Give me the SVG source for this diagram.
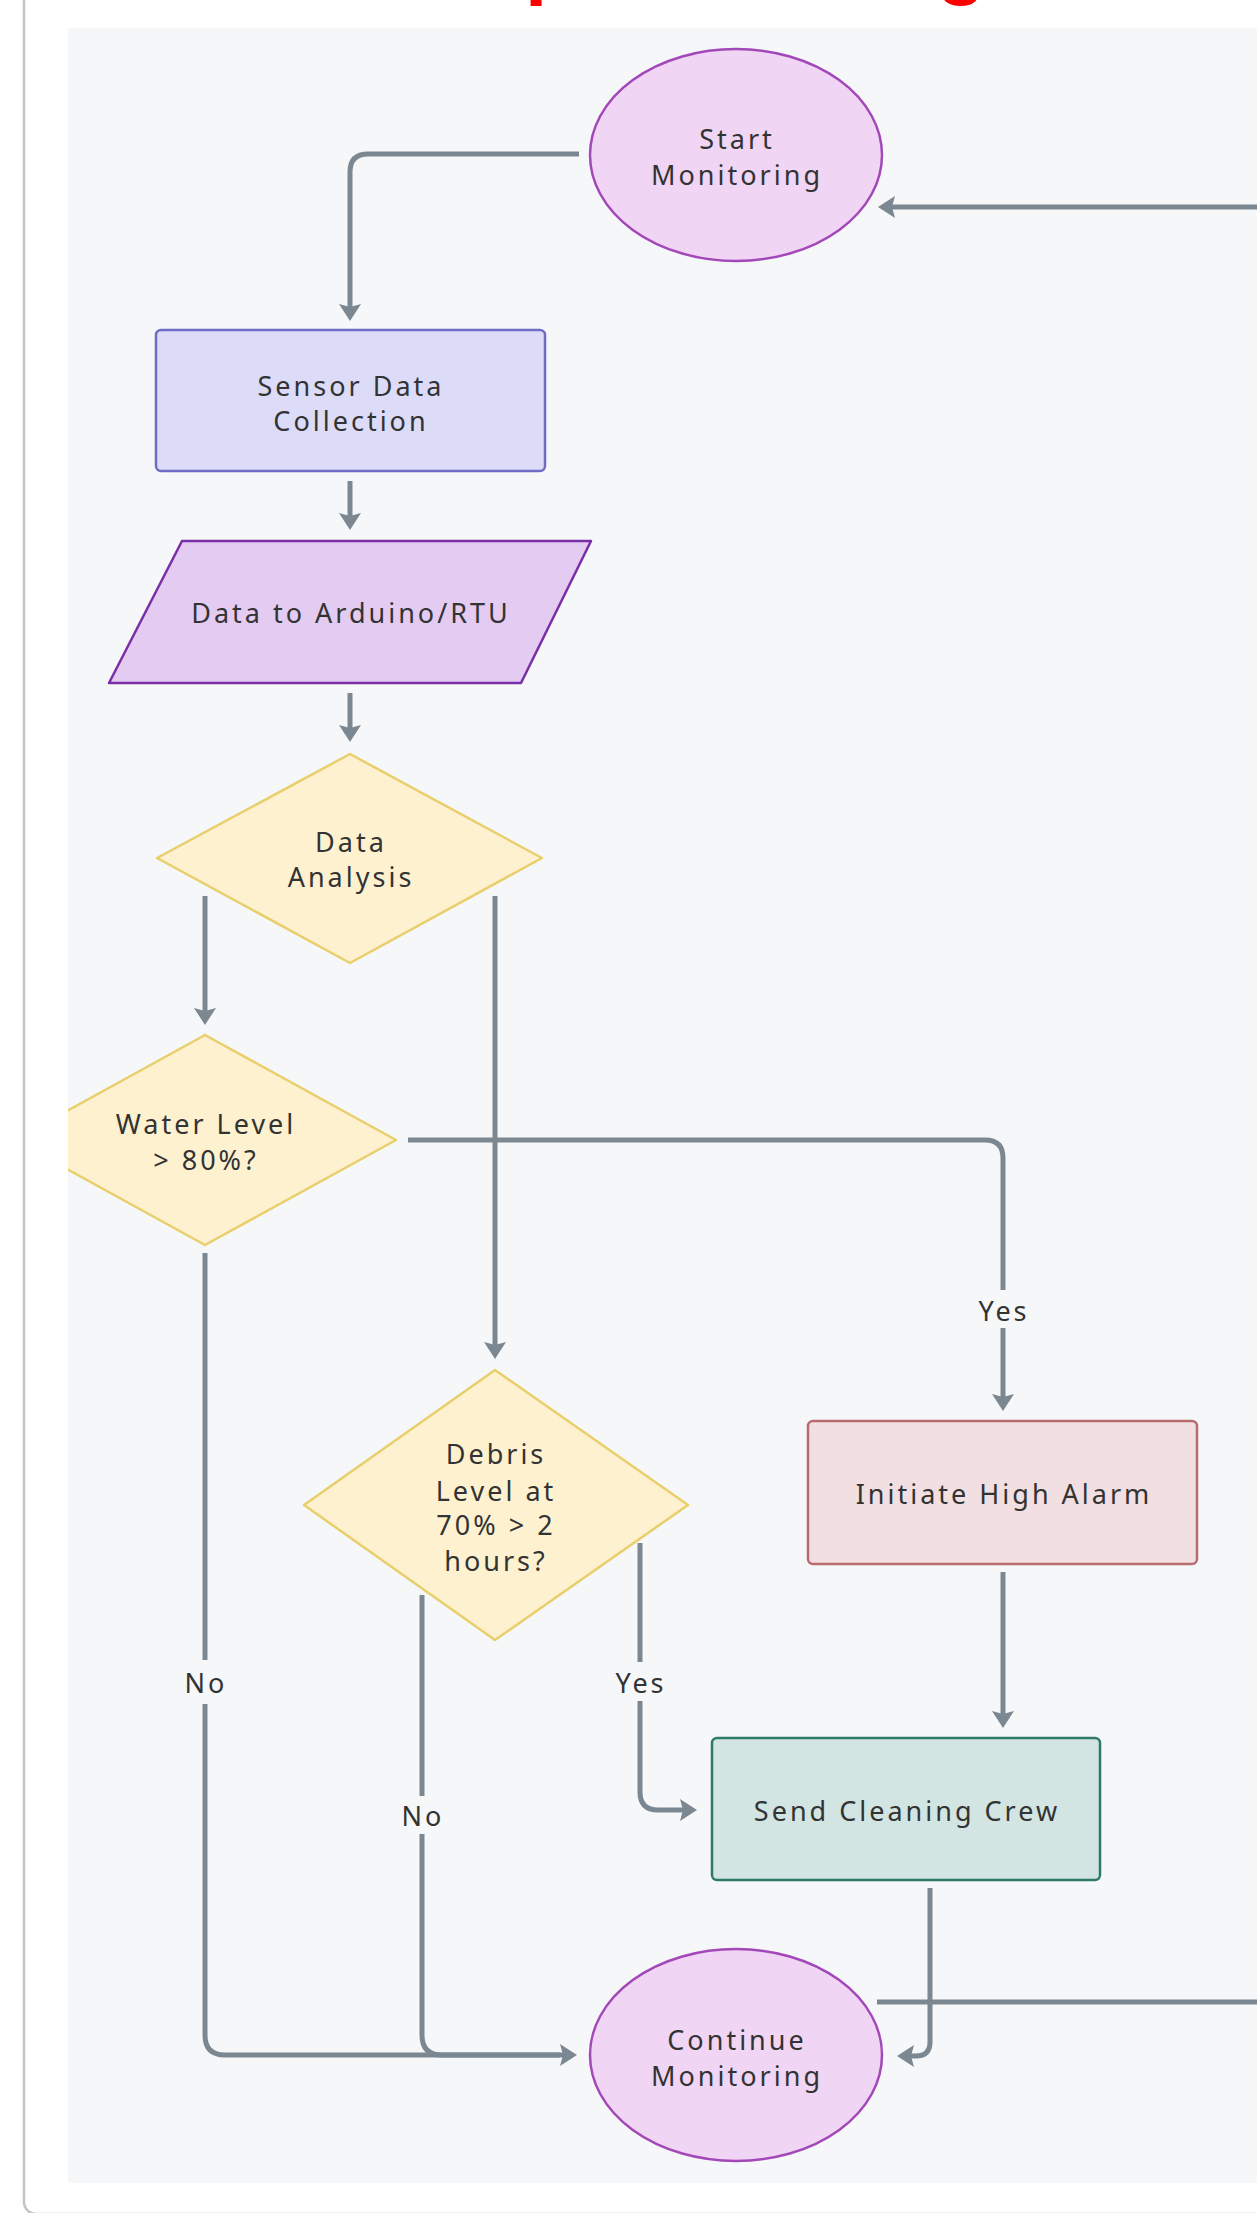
<svg xmlns="http://www.w3.org/2000/svg" width="1257" height="2213" viewBox="0 0 1257 2213">
<style>
.t{font-family:"Noto Sans","DejaVu Sans",sans-serif;font-size:27px;letter-spacing:3px;fill:#333;text-anchor:middle;dominant-baseline:central}
.c{fill:none;stroke:#7b8791;stroke-width:5}
.cm{marker-end:url(#ah)}
.ell{fill:#f1d5f4;stroke:#a348b8;stroke-width:2.5}
.dia{fill:#fdf1d0;stroke:#e8cf6c;stroke-width:2.5;stroke-linejoin:round}
.red{font-family:"Liberation Sans",Arial,sans-serif;font-weight:bold;font-size:80px;fill:#f00}
</style>
<defs>
<marker id="ah" viewBox="0 0 17 22" refX="7" refY="11" markerWidth="17" markerHeight="22" orient="auto" markerUnits="userSpaceOnUse">
<path d="M0,0 L17,11 L0,22 L3,11 z" fill="#7b8791"/>
</marker>
<clipPath id="panel"><rect x="68" y="28" width="1189" height="2155"/></clipPath>
</defs>
<rect width="1257" height="2213" fill="#fff"/>
<text class="red" x="525" y="-11">p</text>
<text class="red" x="937" y="-11">g</text>
<rect x="24" y="-30" width="1300" height="2244" rx="12" fill="none" stroke="#c4c4c4" stroke-width="2.5"/>
<rect x="68" y="28" width="1189" height="2155" fill="#f6f7f9"/>
<g id="connectors">
<path class="c cm" d="M579,154 H368 Q350,154 350,172 V311"/>
<path class="c cm" d="M350,481 V520"/>
<path class="c cm" d="M350,693 V732"/>
<path class="c cm" d="M205,896 V1015"/>
<path class="c cm" d="M495,896 V1349"/>
<path class="c" d="M408,1140 H985 Q1003,1140 1003,1158 V1290"/>
<path class="c cm" d="M1003,1328 V1401"/>
<path class="c" d="M205,1253 V1660"/>
<path class="c cm" d="M205,1704 V2035 Q205,2055 225,2055 H567"/>
<path class="c" d="M422,1595 V1796"/>
<path class="c" d="M422,1834 V2035 Q422,2055 442,2055 H560"/>
<path class="c" d="M640,1543 V1662"/>
<path class="c cm" d="M640,1701 V1792 Q640,1810 658,1810 H687"/>
<path class="c cm" d="M1003,1572 V1718"/>
<path class="c cm" d="M930,1888 V2042 Q930,2056 916,2056 H907"/>
<path class="c cm" d="M877,2002 H1300 V207 H888"/>
<text class="t" x="1004" y="1310">Yes</text>
<text class="t" x="206" y="1682">No</text>
<text class="t" x="423" y="1815">No</text>
<text class="t" x="641" y="1682">Yes</text>
</g>
<g id="start">
<ellipse class="ell" cx="736" cy="155" rx="146" ry="106"/>
<text class="t" x="737" y="138">Start</text>
<text class="t" x="737" y="174">Monitoring</text>
</g>
<g id="sensor">
<rect x="156" y="330" width="389" height="141" rx="5" fill="#dcdcf9" stroke="#6e6cc4" stroke-width="2.5"/>
<text class="t" x="351" y="385">Sensor Data</text>
<text class="t" x="351" y="420">Collection</text>
</g>
<g id="arduino">
<path d="M182,541 H591 L521,683 H109 Z" fill="#e3cbf2" stroke="#7a2fa6" stroke-width="2.5" stroke-linejoin="round"/>
<text class="t" x="351" y="612">Data to Arduino/RTU</text>
</g>
<g id="analysis">
<path class="dia" d="M350,754 L542,858 L350,963 L157,858 Z"/>
<text class="t" x="351" y="841">Data</text>
<text class="t" x="351" y="876">Analysis</text>
</g>
<g id="water" clip-path="url(#panel)">
<path class="dia" d="M205,1035 L396,1140 L205,1245 L14,1140 Z"/>
<text class="t" x="206" y="1123">Water Level</text>
<text class="t" x="206" y="1159">&gt; 80%?</text>
</g>
<g id="debris">
<path class="dia" d="M495,1370 L688,1505 L495,1640 L304,1505 Z"/>
<text class="t" x="496" y="1453">Debris</text>
<text class="t" x="496" y="1490">Level at</text>
<text class="t" x="496" y="1524">70% &gt; 2</text>
<text class="t" x="496" y="1560">hours?</text>
</g>
<g id="alarm">
<rect x="808" y="1421" width="389" height="143" rx="5" fill="#f1dfe1" stroke="#b86c70" stroke-width="2.5"/>
<text class="t" x="1004" y="1493">Initiate High Alarm</text>
</g>
<g id="clean">
<rect x="712" y="1738" width="388" height="142" rx="5" fill="#d2e5e2" stroke="#2d7a69" stroke-width="2.5"/>
<text class="t" x="907" y="1810">Send Cleaning Crew</text>
</g>
<g id="continue">
<ellipse class="ell" cx="736" cy="2055" rx="146" ry="106"/>
<text class="t" x="737" y="2039">Continue</text>
<text class="t" x="737" y="2075">Monitoring</text>
</g>
</svg>
